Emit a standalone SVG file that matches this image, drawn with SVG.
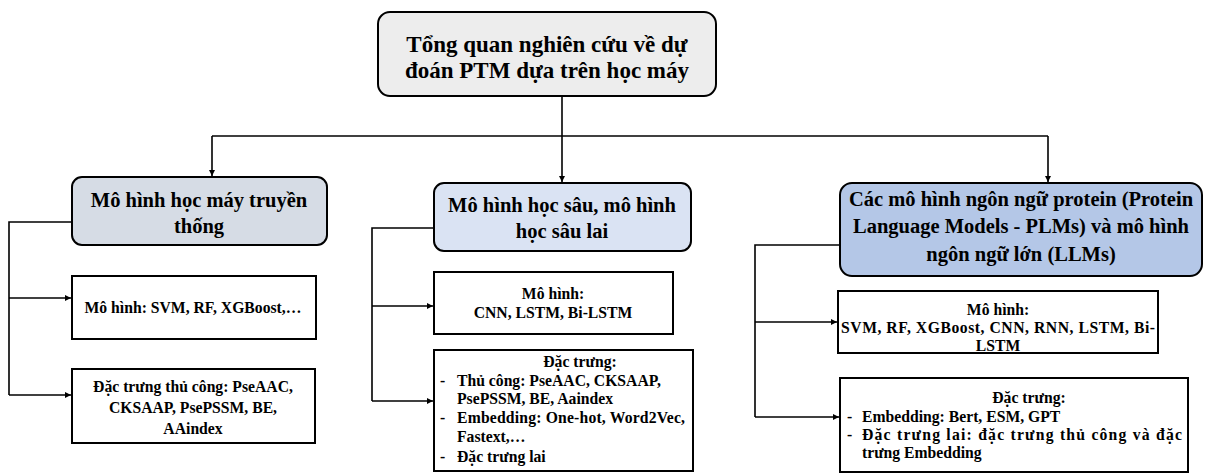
<svg xmlns="http://www.w3.org/2000/svg" width="1211" height="473" viewBox="0 0 1211 473">
  <style>
    .t-root { font-size: 23px; text-anchor: middle; }
    .t-head { font-size: 20.5px; text-anchor: middle; }
    .t-leaf { font-size: 15.7px; }
    .mid { text-anchor: middle; }
    .box { stroke: #000; stroke-width: 2; }
    .leaf { fill: #fff; stroke: #000; stroke-width: 2; }
    .wire { fill: none; stroke: #000; stroke-width: 1.6; }
  </style>
  <defs>
    <marker id="arrow" viewBox="0 0 10 10" refX="10" refY="5" markerWidth="6" markerHeight="6" orient="auto" markerUnits="userSpaceOnUse">
      <path d="M0,0 L10,5 L0,10 Z" fill="#000"/>
    </marker>
  </defs>

  <rect width="1211" height="473" fill="#fff"/>

  <!-- connectors -->
  <g id="connectors">
    <line class="wire" x1="562" y1="96" x2="562" y2="182" marker-end="url(#arrow)"/>
    <line class="wire" x1="212" y1="136" x2="1048" y2="136"/>
    <line class="wire" x1="212" y1="136" x2="212" y2="176" marker-end="url(#arrow)"/>
    <line class="wire" x1="1048" y1="136" x2="1048" y2="182" marker-end="url(#arrow)"/>

    <polyline class="wire" points="72,222 9,222 9,395"/>
    <line class="wire" x1="9" y1="298" x2="71" y2="298" marker-end="url(#arrow)"/>
    <line class="wire" x1="9" y1="395" x2="71" y2="395" marker-end="url(#arrow)"/>

    <polyline class="wire" points="434,228 372,228 372,401"/>
    <line class="wire" x1="372" y1="306" x2="433" y2="306" marker-end="url(#arrow)"/>
    <line class="wire" x1="372" y1="401" x2="433" y2="401" marker-end="url(#arrow)"/>

    <polyline class="wire" points="840,245 755,245 755,417"/>
    <line class="wire" x1="755" y1="322" x2="837" y2="322" marker-end="url(#arrow)"/>
    <line class="wire" x1="755" y1="417" x2="839" y2="417" marker-end="url(#arrow)"/>
  </g>

  <g font-family="'Liberation Serif', 'Times New Roman', serif" font-weight="bold" fill="#000">
    <!-- root -->
    <g id="root">
      <rect class="box" x="378" y="12" width="338" height="84" rx="12" fill="#ededed"/>
      <text class="t-root" x="547" y="52">Tổng quan nghiên cứu về dự</text>
      <text class="t-root" x="547" y="78">đoán PTM dựa trên học máy</text>
    </g>

    <!-- branch: traditional ML -->
    <g id="ml">
      <rect class="box" x="72" y="177" width="255" height="68" rx="10" fill="#d6dce5"/>
      <text class="t-head" x="199" y="207">Mô hình học máy truyền</text>
      <text class="t-head" x="199" y="233">thống</text>
    </g>
    <g id="ml-models">
      <rect class="leaf" x="72" y="276" width="244" height="63"/>
      <text class="t-leaf mid" x="193" y="313">Mô hình: SVM, RF, XGBoost,…</text>
    </g>
    <g id="ml-features">
      <rect class="leaf" x="72" y="369" width="243" height="74"/>
      <text class="t-leaf mid" x="193" y="392">Đặc trưng thủ công: PseAAC,</text>
      <text class="t-leaf mid" x="193" y="413">CKSAAP, PsePSSM, BE,</text>
      <text class="t-leaf mid" x="193" y="434">AAindex</text>
    </g>

    <!-- branch: deep learning -->
    <g id="dl">
      <rect class="box" x="434" y="183" width="257" height="68" rx="10" fill="#dae3f3"/>
      <text class="t-head" x="562" y="212">Mô hình học sâu, mô hình</text>
      <text class="t-head" x="562" y="238">học sâu lai</text>
    </g>
    <g id="dl-models">
      <rect class="leaf" x="434" y="272" width="239" height="62"/>
      <text class="t-leaf mid" x="553" y="299">Mô hình:</text>
      <text class="t-leaf mid" x="553" y="318">CNN, LSTM, Bi-LSTM</text>
    </g>
    <g id="dl-features">
      <rect class="leaf" x="434" y="350" width="259" height="121"/>
      <text class="t-leaf mid" x="580" y="367">Đặc trưng:</text>
      <text class="t-leaf" x="440" y="386">-</text>
      <text class="t-leaf" x="457" y="386">Thủ công: PseAAC, CKSAAP,</text>
      <text class="t-leaf" x="457" y="404">PsePSSM, BE, Aaindex</text>
      <text class="t-leaf" x="440" y="423">-</text>
      <text class="t-leaf" x="457" y="423" textLength="228" lengthAdjust="spacing">Embedding: One-hot, Word2Vec,</text>
      <text class="t-leaf" x="457" y="442">Fastext,…</text>
      <text class="t-leaf" x="440" y="462">-</text>
      <text class="t-leaf" x="457" y="462">Đặc trưng lai</text>
    </g>

    <!-- branch: language models -->
    <g id="lm">
      <rect class="box" x="840" y="183" width="362" height="93" rx="12" fill="#b4c7e7"/>
      <text class="t-head" x="1021" y="206">Các mô hình ngôn ngữ protein (Protein</text>
      <text class="t-head" x="1021" y="233">Language Models - PLMs) và mô hình</text>
      <text class="t-head" x="1021" y="261">ngôn ngữ lớn (LLMs)</text>
    </g>
    <g id="lm-models">
      <rect class="leaf" x="838" y="291" width="320" height="62"/>
      <text class="t-leaf mid" x="998" y="315">Mô hình:</text>
      <text class="t-leaf" x="841" y="333" textLength="314" lengthAdjust="spacing">SVM, RF, XGBoost, CNN, RNN, LSTM, Bi-</text>
      <text class="t-leaf mid" x="998" y="351">LSTM</text>
    </g>
    <g id="lm-features">
      <rect class="leaf" x="840" y="378" width="348" height="94"/>
      <text class="t-leaf mid" x="1029" y="403">Đặc trưng:</text>
      <text class="t-leaf" x="847" y="422">-</text>
      <text class="t-leaf" x="862" y="422">Embedding: Bert, ESM, GPT</text>
      <text class="t-leaf" x="847" y="440">-</text>
      <text class="t-leaf" x="862" y="440" textLength="320" lengthAdjust="spacing">Đặc trưng lai: đặc trưng thủ công và đặc</text>
      <text class="t-leaf" x="862" y="458">trưng Embedding</text>
    </g>
  </g>
</svg>
